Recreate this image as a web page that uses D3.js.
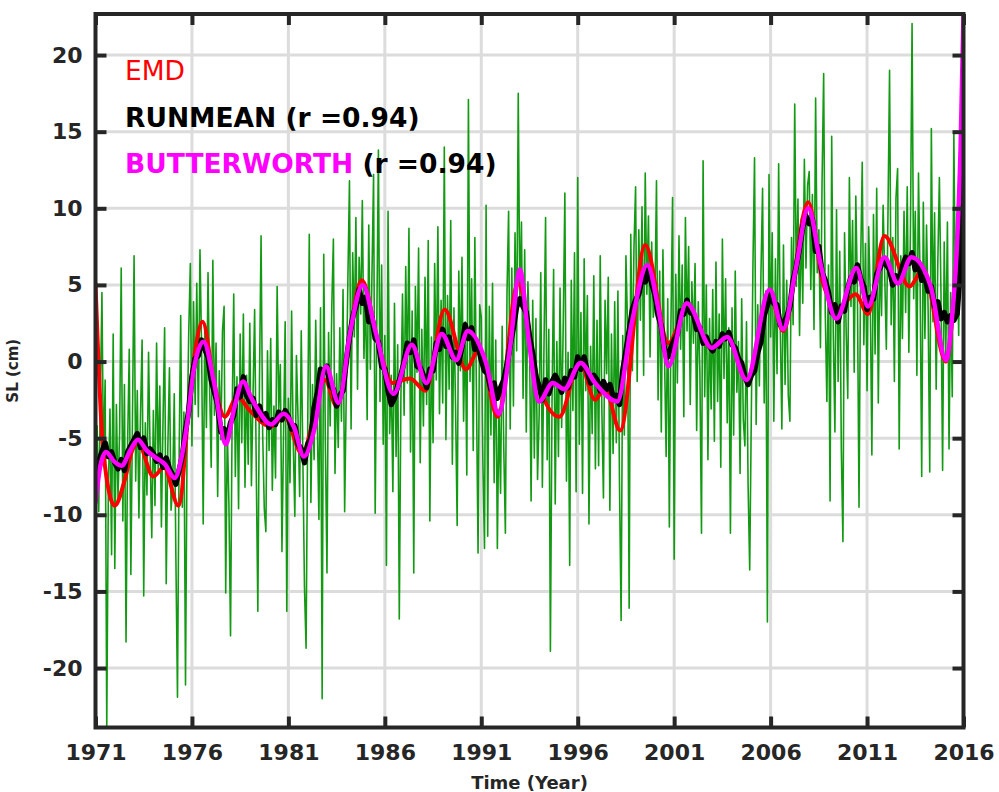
<!DOCTYPE html>
<html>
<head>
<meta charset="utf-8">
<script src="https://cdn.jsdelivr.net/npm/d3@7"></script>
<style>
  html, body { margin: 0; padding: 0; background: #ffffff; }
  svg { display: block; }
  text { white-space: pre; }
</style>
</head>
<body>
<svg id="chart" width="999" height="792"></svg>
<script>
// Axis ticks
const xTicks = [1971, 1976, 1981, 1986, 1991, 1996, 2001, 2006, 2011, 2016];
const yTicks = [-20, -15, -10, -5, 0, 5, 10, 15, 20];

// Monthly sea level anomaly (cm), January 1971 onwards, one row per year
const slValue = [
  -11.6, -4.2, -9.8, -2.5, 4.5, -6.8, -1.2, -23.85, -8.4, -3.1, -12.6, 1.8,
  -13.5, -2.8, -8.9, -4.6, 6.1, -10.4, -1.5, -18.3, -5.2, 0.8, -13.9, -3.7,
  6.9, -7.8, -1.9, -10.2, -3.4, 1.4, -15.3, -4.0, -8.7, 0.6, -6.1, -11.5,
  -3.2, -9.4, 1.2, -7.1, -1.6, -10.8, -3.9, 2.2, -14.5, -5.6, -0.4, -9.7,
  -8.2, -2.1, -12.7, -21.9, -6.4, 3.0, -9.5, -3.3, -21.1, -4.8, 1.9, 6.4,
  -5.5, 3.9, -2.8, 5.1, -3.6, 7.3, 0.9, -10.6, 2.4, -4.3, 5.8, -1.7,
  -6.9, 6.6, -3.5, 1.2, -8.8, -0.6, -5.1, 2.0, 3.6, -15.1, -4.4, -9.3,
  -17.9, -3.6, 4.4, -7.5, -1.0, -9.6, 1.8, -5.3, 3.1, -8.2, -0.9, -6.7,
  2.5, -8.1, -2.2, 3.4, -6.9, -16.3, -1.4, 8.2, -4.7, -9.6, -11.1, 0.7,
  -5.8, 1.5, -8.4, -2.9, -7.6, 4.9, -3.1, -0.2, -12.4, -4.6, 2.6, -16.3,
  -2.4, -7.9, 3.3, -5.2, -10.1, 0.4, -3.7, -8.8, 2.0, -6.3, -14.7, -18.7,
  -4.6, 8.3, -9.2, -1.5, -6.4, 2.7, -4.1, -10.3, 3.5, -22.0, 7.0, -5.3,
  -13.8, 1.9, -4.2, 3.6, 8.0, -7.3, -0.8, -5.6, 2.2, -3.9, 4.7, -9.8,
  -2.1, 5.3, 11.8, -4.4, 7.1, 1.6, 9.4, -1.8, 6.8, 3.1, 10.5, 0.2,
  4.6, -3.8, 8.9, -0.5, 5.7, 12.2, -9.9, 2.4, 13.8, -2.6, 6.3, -5.4,
  1.7, -13.3, 9.8, -4.7, -0.9, -8.5, 3.8, -6.2, 1.1, -16.8, -2.3, 4.4,
  -3.5, 6.2, -1.4, 8.7, -5.9, 3.3, -13.8, 4.9, -0.7, 7.4, -6.6, 2.1,
  -4.2, 5.5, -2.8, 7.9, -10.4, 1.6, -5.3, 6.4, -1.2, 8.8, -3.4, 4.0,
  -2.7, 14.0, -5.1, 4.3, -1.8, 9.2, -6.7, 3.5, -3.0, -10.7, 5.9, -0.6,
  6.8, -3.9, 2.6, -7.4, 17.1, -1.3, 5.4, -5.8, 8.1, -2.2, -12.5, 3.7,
  2.9, -6.5, -12.2, 10.2, -11.4, 3.6, -4.8, 5.1, -7.9, 1.4, -12.2, -3.1,
  -8.6, 2.3, -5.7, -11.2, 4.5, 9.8, -4.4, 6.1, -2.9, 8.4, 0.7, 17.5,
  3.6, 9.1, -2.4, 7.3, -4.6, 5.2, 1.5, -9.1, 4.0, -6.3, 2.8, -7.7,
  -3.5, 5.8, -8.2, 0.9, 9.4, -6.4, 2.1, -18.9, -2.7, 6.0, -9.3, 1.3,
  -6.2, 4.8, -4.3, 2.5, 11.0, -7.8, 0.6, -13.3, 5.3, -3.2, 7.1, -8.5,
  12.0, -5.4, 3.2, -8.6, 6.7, -1.9, 4.3, -10.6, 1.0, -4.7, 5.6, -7.0,
  2.7, -6.8, 6.9, -3.1, -8.9, 4.0, -0.8, 5.5, -9.7, 1.8, -6.0, 3.9,
  -5.3, 4.6, -8.1, -16.9, 1.7, -4.8, 6.9, 2.2, -16.1, 8.3, -0.6, 7.5,
  11.4, -1.3, 8.6, 2.7, 10.1, -0.9, 12.3, 4.4, 9.5, 0.3, 7.8, 2.9,
  3.8, 11.8, -2.5, 5.9, -4.6, 7.3, 0.4, -6.2, 4.1, -10.8, 2.5, 10.7,
  -12.9, 5.7, -1.4, 8.2, 0.8, 6.3, -3.6, 9.4, 2.0, 7.5, -2.8, 5.2,
  1.2, 6.4, -4.5, 3.9, -0.7, -11.2, 13.1, -2.3, 5.0, -6.4, 2.8, -3.1,
  4.7, -5.2, 6.5, -2.6, 3.1, -6.9, 8.0, -1.1, 5.4, -4.0, 2.2, -11.2,
  3.5, -4.8, 5.9, -2.0, 1.3, -7.3, 4.1, -3.8, -5.5, 2.6, -8.1, -13.6,
  -3.4, 6.2, 13.3, -4.1, 3.7, -1.6, 5.8, 11.3, -2.7, 4.6, -17.0, 12.2,
  1.6, 8.4, -3.9, 6.7, -0.8, 12.9, 2.3, -4.4, 7.6, -1.5, 5.3, -2.2,
  -3.9, 8.1, 2.4, 16.8, 4.9, 10.6, 1.7, 9.3, 3.8, 13.2, 6.1, 11.5,
  12.4, 4.7, 10.9, 2.1, 17.2, 5.8, 8.6, 0.9, 11.7, 18.8, 3.2, -2.6,
  6.3, -9.1, 14.7, 1.8, -4.6, 9.9, -1.3, 7.2, -5.8, -11.75, 8.4, 2.0,
  -2.4, 12.0, 3.6, 9.2, -0.7, 10.8, 4.5, -9.5, 6.3, 13.0, 1.1, 7.7,
  -1.9, 8.8, 4.2, -6.1, 9.6, 0.5, 11.3, -2.7, 7.4, 3.0, 10.2, 5.6,
  0.8, 9.5, 19.0, 2.4, 8.1, -1.3, 10.7, 12.6, -5.7, 6.9, 1.5, 9.8,
  3.2, 11.4, 0.6, 8.7, 22.06, 4.1, 9.8, -0.9, 12.3, 5.2, -7.5, 10.4,
  1.5, 8.9, 3.3, -7.2, 15.2, 2.6, 9.7, -1.8, 6.4, 12.0, 4.3, -7.1,
  7.8, 0.4, 9.1, -5.7, 4.5, -2.3, 14.9, 3.6, 8.2, 1.7, 10.5, 6.0
];

// Running mean (cm), every two months from 1971.0 to 2016.0
const rmValue = [
  -7.3, -6.5, -5.9, -5.3, -6.2, -5.9,
  -6.6, -7.0, -6.4, -7.1, -5.9, -5.5,
  -5.1, -4.7, -5.6, -5.0, -6.0, -5.7,
  -6.0, -6.5, -6.1, -6.9, -6.3, -7.0,
  -7.4, -8.0, -7.1, -6.2, -4.5, -3.2,
  -1.0, 0.2, 0.4, 1.4, 0.8, 0.3,
  -1.2, -2.0, -2.8, -4.6, -4.4, -5.0,
  -4.0, -3.5, -1.8, -2.3, -1.0, -2.2,
  -2.6, -2.4, -3.5, -2.9, -3.8, -3.4,
  -4.3, -3.8, -4.1, -3.3, -3.8, -3.2,
  -3.6, -4.4, -4.2, -5.4, -5.7, -6.6,
  -5.4, -5.0, -3.0, -2.1, -0.5, -0.7,
  -0.3, -1.6, -1.8, -2.9, -2.2, -1.9,
  0.0, 1.6, 2.9, 3.6, 4.7, 3.8,
  4.2, 2.6, 2.9, 1.5, 1.3, -0.3,
  -0.5, -1.9, -2.8, -2.4, -1.6, -0.9,
  0.0, 1.2, 0.6, 1.4, -0.3, -0.4,
  -0.9, -1.7, -0.5, -0.6, 1.2, 0.8,
  2.1, 1.0, 1.6, 0.3, 0.6, -0.1,
  1.0, 2.4, 1.5, 2.2, 0.8, 1.0,
  0.1, -0.6, -0.8, -1.8, -1.4, -2.4,
  -1.7, -1.2, -0.2, 1.1, 2.2, 3.6,
  4.1, 3.6, 3.2, 1.6, 0.5, -1.0,
  -1.6, -2.5, -1.2, -2.1, -1.3, -0.9,
  -1.3, -2.0, -1.1, -1.7, -0.6, -1.0,
  0.3, -0.5, 0.3, -0.7, -1.4, -0.9,
  -1.2, -1.9, -1.3, -1.8, -1.5, -2.3,
  -2.2, -2.8, -0.6, 0.7, 2.0, 3.4,
  4.0, 4.4, 5.5, 5.2, 6.0, 5.1,
  4.4, 3.0, 2.3, 0.8, 0.3, 0.9,
  1.4, 1.8, 3.3, 3.1, 4.0, 3.2,
  3.1, 2.1, 2.2, 1.2, 1.6, 1.0,
  0.7, 1.3, 1.0, 1.8, 1.5, 1.9,
  1.1, 0.9, 0.2, -0.1, -1.0, -1.5,
  -0.9, -0.6, 0.6, 1.3, 3.0, 3.7,
  4.4, 3.8, 3.7, 2.4, 2.5, 2.9,
  3.6, 5.3, 6.2, 7.4, 8.8, 9.5,
  9.0, 9.3, 7.2, 7.5, 5.8, 5.3,
  4.5, 3.2, 3.7, 2.6, 3.6, 3.3,
  4.8, 5.5, 5.2, 6.3, 5.4, 4.9,
  3.4, 4.2, 4.1, 5.7, 6.1, 6.6,
  6.3, 6.0, 5.0, 5.6, 5.2, 6.2,
  6.8, 6.4, 7.1, 6.0, 6.5, 5.3,
  5.5, 4.6, 4.9, 3.6, 3.9, 2.8,
  3.2, 2.6, 3.0, 2.7, 3.1, 6.0,
  15.1
];

// Butterworth low-pass curve (cm) at its turning points
const bwYear = [1971.00, 1971.25, 1971.55, 1971.95, 1972.35, 1972.80, 1973.20, 1973.65, 1974.15, 1974.60,
  1975.10, 1975.50, 1975.80, 1976.10, 1976.60, 1977.15, 1977.75, 1978.20, 1978.65, 1979.05,
  1979.45, 1980.10, 1980.75, 1981.30, 1981.80, 1982.35, 1982.95, 1983.60, 1984.20, 1984.85,
  1985.55, 1986.45, 1987.40, 1988.15, 1988.95, 1989.70, 1990.30, 1991.25, 1991.90, 1992.50,
  1993.00, 1993.45, 1994.00, 1994.70, 1995.30, 1996.15, 1996.90, 1998.05, 1998.80, 1999.60,
  2000.20, 2000.70, 2001.65, 2002.95, 2003.75, 2004.75, 2005.95, 2006.65, 2007.30, 2007.95,
  2008.60, 2009.40, 2010.45, 2011.05, 2011.90, 2012.60, 2013.30, 2014.30, 2015.10, 2015.40,
  2015.65, 2015.85, 2016.00];
const bwValue = [-9.2, -6.8, -5.9, -6.5, -6.8, -5.8, -5.1, -5.8, -6.3, -6.7,
  -7.6, -6.0, -3.6, -0.5, 1.3, -1.4, -5.4, -3.0, -1.3, -2.3,
  -3.2, -4.1, -3.4, -4.3, -6.2, -4.4, -0.3, -2.7, 1.9, 5.0,
  1.8, -2.1, 1.1, -1.4, 1.8, 0.1, 2.0, -0.1, -3.4, 1.0,
  6.0, 1.5, -2.6, -1.4, -1.8, -0.1, -1.4, -2.6, 2.5, 6.3,
  3.3, -0.3, 3.8, 0.9, 1.6, -1.2, 4.7, 2.1, 6.0, 10.0,
  6.3, 2.8, 6.1, 3.6, 6.8, 5.1, 6.8, 4.9, 0.1, 2.8,
  7.3, 14.0, 22.7];

// EMD reconstruction (cm) at its turning points
const emdYear = [1971.00, 1971.40, 1972.00, 1972.50, 1972.90, 1973.20, 1974.00, 1974.55, 1975.30, 1976.00,
  1976.55, 1977.15, 1977.70, 1978.35, 1979.00, 1980.10, 1980.80, 1981.70, 1982.90, 1983.50,
  1984.80, 1985.75, 1986.40, 1987.30, 1988.10, 1989.10, 1990.20, 1990.90, 1991.85, 1992.90,
  1994.00, 1995.05, 1996.10, 1996.90, 1997.40, 1998.20, 1999.50, 2000.70, 2001.65, 2002.95,
  2003.75, 2004.75, 2005.95, 2006.65, 2007.95, 2008.70, 2009.50, 2010.40, 2011.05, 2011.90,
  2013.20, 2013.90, 2015.10, 2015.40, 2015.65, 2015.85, 2016.00];
const emdValue = [5.1, -5.8, -9.4, -7.8, -5.8, -5.3, -7.5, -6.9, -9.4, -0.8,
  2.6, -1.4, -3.6, -2.3, -3.2, -4.25, -3.6, -6.0, -1.2, -2.9,
  5.3, 0.7, -1.4, -1.1, -1.9, 3.4, -0.5, 0.8, -3.6, 5.1,
  -1.6, -3.6, 0.0, -2.5, -1.7, -4.5, 7.6, 1.2, 3.4, 0.9,
  1.6, -1.2, 4.4, 2.0, 10.4, 5.2, 3.5, 4.4, 3.1, 8.2,
  4.9, 6.0, 0.0, 2.6, 7.0, 12.5, 19.0];

// ---- layout ----
const svg = d3.select("#chart");
const plotLeft = 95.5, plotRight = 963.5, plotTop = 14, plotBottom = 727.5;
const FONT = "'DejaVu Sans', sans-serif";
const AXIS_COLOR = "#262626";

const x = d3.scaleLinear().domain([1971, 2016]).range([plotLeft, plotRight]);
const y = d3.scaleLinear().domain([-23.88, 22.68]).range([plotBottom, plotTop]);

svg.append("rect").attr("width", 999).attr("height", 792).attr("fill", "#ffffff");

svg.append("defs").append("clipPath").attr("id", "plot-clip")
  .append("rect").attr("x", plotLeft).attr("y", plotTop)
  .attr("width", plotRight - plotLeft).attr("height", plotBottom - plotTop);

// grid
const grid = svg.append("g").attr("stroke", "#dcdcdc").attr("stroke-width", 3);
grid.selectAll("line.gx").data(xTicks).join("line").attr("class", "gx")
  .attr("x1", d => x(d)).attr("x2", d => x(d)).attr("y1", plotTop).attr("y2", plotBottom);
grid.selectAll("line.gy").data(yTicks).join("line").attr("class", "gy")
  .attr("y1", d => y(d)).attr("y2", d => y(d)).attr("x1", plotLeft).attr("x2", plotRight);

// series
const slData = slValue.map((v, i) => [1971 + i / 12, v]);
const rmData = rmValue.map((v, i) => [1971 + i / 6, v]);
const bwData = bwYear.map((t, i) => [t, bwValue[i]]);
const emdData = emdYear.map((t, i) => [t, emdValue[i]]);

const linear = d3.line().x(d => x(d[0])).y(d => y(d[1]));
const smooth = d3.line().x(d => x(d[0])).y(d => y(d[1])).curve(d3.curveMonotoneX);

const plot = svg.append("g").attr("clip-path", "url(#plot-clip)")
  .attr("fill", "none").attr("stroke-linejoin", "round").attr("stroke-linecap", "round");

plot.append("path").datum(slData).attr("d", linear)
  .attr("stroke", "#139a13").attr("stroke-width", 1.6);
plot.append("path").datum(emdData).attr("d", smooth)
  .attr("stroke", "#ff0000").attr("stroke-width", 4);
plot.append("path").datum(rmData).attr("d", linear)
  .attr("stroke", "#000000").attr("stroke-width", 5.5);
plot.append("path").datum(bwData).attr("d", smooth)
  .attr("stroke", "#ff00ff").attr("stroke-width", 4.5);

// axes
const plainNumber = d => String(d);

function styleAxis(g, labels) {
  g.select(".domain").remove();
  g.selectAll(".tick line").attr("stroke", AXIS_COLOR).attr("stroke-width", 4);
  g.selectAll(".tick text")
    .attr("fill", AXIS_COLOR)
    .attr("font-family", FONT)
    .attr("font-weight", "bold")
    .attr("font-size", 22)
    .style("display", labels ? null : "none");
}

svg.append("g").attr("transform", `translate(0,${plotBottom})`)
  .call(d3.axisBottom(x).tickValues(xTicks).tickFormat(plainNumber)
    .tickSizeInner(-11).tickSizeOuter(0).tickPadding(17))
  .call(g => styleAxis(g, true));
svg.append("g").attr("transform", `translate(0,${plotTop})`)
  .call(d3.axisTop(x).tickValues(xTicks).tickSizeInner(-11).tickSizeOuter(0))
  .call(g => styleAxis(g, false));
svg.append("g").attr("transform", `translate(${plotLeft},0)`)
  .call(d3.axisLeft(y).tickValues(yTicks).tickFormat(plainNumber)
    .tickSizeInner(-11).tickSizeOuter(0).tickPadding(13))
  .call(g => styleAxis(g, true));
svg.append("g").attr("transform", `translate(${plotRight},0)`)
  .call(d3.axisRight(y).tickValues(yTicks).tickSizeInner(-11).tickSizeOuter(0))
  .call(g => styleAxis(g, false));

// frame
svg.append("rect").attr("x", plotLeft).attr("y", plotTop)
  .attr("width", plotRight - plotLeft).attr("height", plotBottom - plotTop)
  .attr("fill", "none").attr("stroke", AXIS_COLOR).attr("stroke-width", 4);

// axis titles
svg.append("text")
  .attr("transform", `translate(17.5,${(plotTop + plotBottom) / 2}) rotate(-90)`)
  .attr("text-anchor", "middle").attr("font-family", FONT)
  .attr("font-weight", "bold").attr("font-size", 15).attr("fill", AXIS_COLOR)
  .text("SL (cm)");
svg.append("text")
  .attr("x", (plotLeft + plotRight) / 2).attr("y", 788.5)
  .attr("text-anchor", "middle").attr("font-family", FONT)
  .attr("font-weight", "bold").attr("font-size", 18).attr("fill", AXIS_COLOR)
  .text("Time (Year)");

// legend
const legend = svg.append("g").attr("font-family", FONT).attr("font-size", 26.5);
legend.append("text").attr("x", 125).attr("y", 80).attr("fill", "#ff0000").text("EMD");
legend.append("text").attr("x", 125).attr("y", 127).attr("fill", "#000000")
  .attr("font-weight", "bold").text("RUNMEAN (r =0.94)");
const bwLabel = legend.append("text").attr("x", 125).attr("y", 173).attr("font-weight", "bold");
bwLabel.append("tspan").attr("fill", "#ff00ff").text("BUTTERWORTH");
bwLabel.append("tspan").attr("fill", "#000000").text(" (r =0.94)");
</script>
</body>
</html>
